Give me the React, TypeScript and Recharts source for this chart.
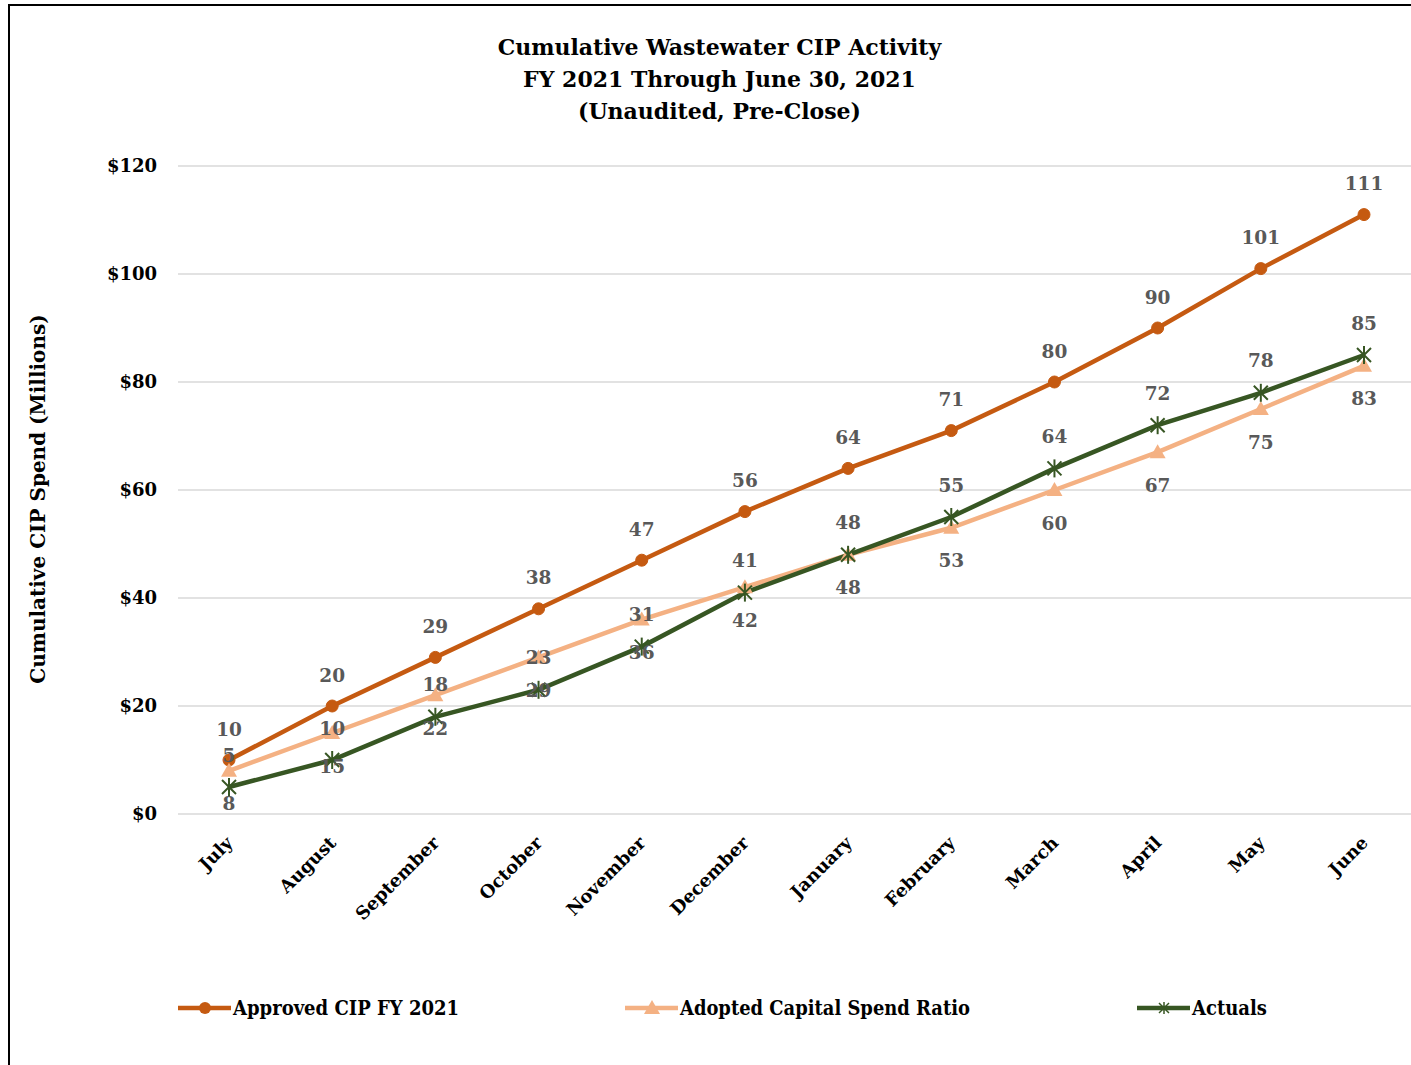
import React from 'react';
import { LineChart, Line, XAxis, YAxis, CartesianGrid, LabelList } from 'recharts';

const months = ['July', 'August', 'September', 'October', 'November', 'December', 'January', 'February', 'March', 'April', 'May', 'June'];
const approved = [10, 20, 29, 38, 47, 56, 64, 71, 80, 90, 101, 111];
const adopted = [8, 15, 22, 29, 36, 42, 48, 53, 60, 67, 75, 83];
const actuals = [5, 10, 18, 23, 31, 41, 48, 55, 64, 72, 78, 85];
const yTicks = [0, 20, 40, 60, 80, 100, 120];

const titleLines = ['Cumulative Wastewater CIP Activity', 'FY 2021 Through June 30, 2021', '(Unaudited, Pre-Close)'];
const yLabel = 'Cumulative CIP Spend (Millions)';

const C_APPROVED = '#C55A11';
const C_ADOPTED = '#F4B183';
const C_ACTUALS = '#375623';
const FONT = '"DejaVu Serif", serif';

const data = months.map((m, i) => ({ month: m, approved: approved[i], adopted: adopted[i], actuals: actuals[i] }));

const CircleDot = (props: any) => {
  const { cx, cy } = props;
  if (cx == null || cy == null) return null;
  return <circle cx={cx} cy={cy} r={6} fill={C_APPROVED} stroke={C_APPROVED} />;
};
const TriDot = (props: any) => {
  const { cx, cy } = props;
  if (cx == null || cy == null) return null;
  return <path d={`M${cx},${cy - 8} L${cx + 8},${cy + 6} L${cx - 8},${cy + 6} Z`} fill={C_ADOPTED} />;
};
const StarDot = (props: any) => {
  const { cx, cy } = props;
  if (cx == null || cy == null) return null;
  const d = 7;
  return (
    <g stroke={C_ACTUALS} strokeWidth={2}>
      <line x1={cx - d} y1={cy - d} x2={cx + d} y2={cy + d} />
      <line x1={cx - d} y1={cy + d} x2={cx + d} y2={cy - d} />
      <line x1={cx} y1={cy - 9} x2={cx} y2={cy + 9} />
    </g>
  );
};

const makeLabel = (dy: number) => (props: any) => {
  const { x, y, value } = props;
  return (
    <text x={x} y={y + dy} textAnchor="middle" dominantBaseline="central" fill="#595959"
      fontFamily={FONT} fontWeight="bold" fontSize={18.5}>{value}</text>
  );
};

const XTick = (props: any) => {
  const { x, y, payload } = props;
  return (
    <g transform={`translate(${x + 5},${y + 22})`}>
      <text x={0} y={0} textAnchor="end" transform="rotate(-45)" fill="#000"
        fontFamily={FONT} fontWeight="bold" fontSize={18}>{payload.value}</text>
    </g>
  );
};

const legendItems = [
  { key: 'approved', label: 'Approved CIP FY 2021', color: C_APPROVED, x: 170, len: 226, marker: 'circle' },
  { key: 'adopted', label: 'Adopted Capital Spend Ratio', color: C_ADOPTED, x: 617, len: 290, marker: 'tri' },
  { key: 'actuals', label: 'Actuals', color: C_ACTUALS, x: 1129, len: 75, marker: 'star' },
];

const LegendBox = () => (
  <svg width={1403} height={40} style={{ display: 'block' }}>
    {legendItems.map((it) => {
      const cy = 20;
      const mx = it.x + 27;
      return (
        <g key={it.key}>
          <line x1={it.x} y1={cy} x2={it.x + 53} y2={cy} stroke={it.color} strokeWidth={4.5} />
          {it.marker === 'circle' && <circle cx={mx} cy={cy} r={6} fill={it.color} />}
          {it.marker === 'tri' && <path d={`M${mx},${cy - 8} L${mx + 8},${cy + 6} L${mx - 8},${cy + 6} Z`} fill={it.color} />}
          {it.marker === 'star' && (
            <g stroke={it.color} strokeWidth={1.5}>
              <line x1={mx - 5} y1={cy - 5} x2={mx + 5} y2={cy + 5} />
              <line x1={mx - 5} y1={cy + 5} x2={mx + 5} y2={cy - 5} />
              <line x1={mx} y1={cy - 6} x2={mx} y2={cy + 6} />
            </g>
          )}
          <text x={it.x + 55} y={cy + 7} fill="#000" fontFamily={FONT} fontWeight="bold" fontSize={20}
            textLength={it.len} lengthAdjust="spacingAndGlyphs">{it.label}</text>
        </g>
      );
    })}
  </svg>
);

export default function App() {
  return (
    <div style={{ position: 'relative', width: 1411, height: 1065, overflow: 'hidden', background: '#fff' }}>
      <style>{'html,body{margin:0;padding:0;overflow:hidden;}'}</style>
      <div style={{ position: 'absolute', left: 8, top: 4, width: 1403, height: 1061, overflow: 'hidden' }}>
        <div style={{ position: 'absolute', left: 0, top: 3 }}>
          <LineChart width={1403} height={1056} data={data} margin={{ top: 159, right: 0, left: 0, bottom: 189 }}>
            <CartesianGrid vertical={false} stroke="#d9d9d9" strokeWidth={1.5} />
            <XAxis dataKey="month" axisLine={false} tickLine={false} height={60} interval={0}
              padding={{ left: 51, right: 47 }} tick={<XTick />} />
            <YAxis domain={[0, 120]} ticks={yTicks} width={170} axisLine={false} tickLine={false} tickMargin={15}
              tickFormatter={(v: number) => `$${v}`}
              tick={{ fill: '#000', fontFamily: FONT, fontWeight: 'bold', fontSize: 18 }} />
            <Line dataKey="approved" name="Approved CIP FY 2021" stroke={C_APPROVED} strokeWidth={4.5} dot={<CircleDot />} isAnimationActive={false}>
              <LabelList dataKey="approved" content={makeLabel(-31)} />
            </Line>
            <Line dataKey="adopted" name="Adopted Capital Spend Ratio" stroke={C_ADOPTED} strokeWidth={4.5} dot={<TriDot />} isAnimationActive={false}>
              <LabelList dataKey="adopted" content={makeLabel(33)} />
            </Line>
            <Line dataKey="actuals" name="Actuals" stroke={C_ACTUALS} strokeWidth={4.5} dot={<StarDot />} isAnimationActive={false}>
              <LabelList dataKey="actuals" content={makeLabel(-32)} />
            </Line>
          </LineChart>
        </div>
        <div style={{ position: 'absolute', left: 0, top: 984 }}>
          <LegendBox />
        </div>
        <div style={{ position: 'absolute', left: -8, top: 27, width: 1439, textAlign: 'center', fontFamily: FONT, fontWeight: 'bold', fontSize: 22, lineHeight: '32px', color: '#000' }}>
          {titleLines.map((t) => <div key={t}>{t}</div>)}
        </div>
        <div style={{ position: 'absolute', left: 30, top: 495, width: 0, height: 0 }}>
          <div style={{ position: 'absolute', left: -250, top: -14, width: 500, textAlign: 'center', transform: 'rotate(-90deg)', fontFamily: FONT, fontWeight: 'bold', fontSize: 20, lineHeight: '28px', color: '#000', whiteSpace: 'nowrap' }}>
            {yLabel}
          </div>
        </div>
        <div style={{ position: 'absolute', left: 0, top: 0, width: 1403, height: 2, background: '#000' }} />
        <div style={{ position: 'absolute', left: 0, top: 0, width: 2, height: 1061, background: '#000' }} />
      </div>
    </div>
  );
}
